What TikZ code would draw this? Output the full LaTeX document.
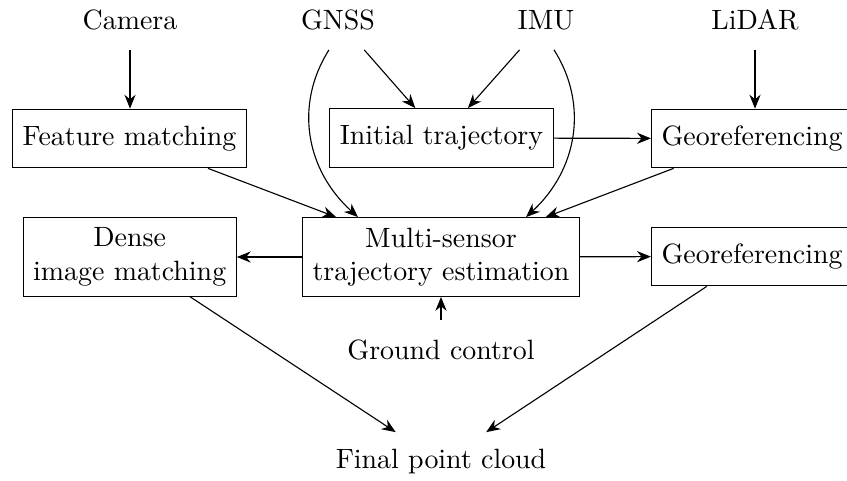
\documentclass[tikz,border=0pt]{standalone}
\usetikzlibrary{arrows.meta,calc}
\begin{document}
\begin{tikzpicture}[x=0.3584pt,y=-0.3584pt,
  every node/.style={minimum height=21pt},
  box/.style={draw,align=center,inner sep=3.6pt},
  lbl/.style={inner sep=3.33pt},
  arr/.style={-{Stealth[length=5pt,width=4pt]},line width=0.4pt}]
\useasboundingbox (0,0) rectangle (847,480);
\node[lbl] (cam) at (130,20) {Camera};
\node[lbl] (gnss) at (338,20) {GNSS};
\node[lbl] (imu) at (546,20) {IMU};
\node[lbl] (lidar) at (755,20) {LiDAR};
\node[box] (fm) at (129.5,138.5) {Feature matching};
\node[box] (it) at (441.5,138) {Initial trajectory};
\node[box] (geo1) at (752,138.5) {Georeferencing};
\node[box] (dim) at (129.7,257) {Dense\\image matching};
\node[box] (ms) at (441,257) {Multi-sensor\\trajectory estimation};
\node[box] (geo2) at (752,256.5) {Georeferencing};
\node[lbl] (gc) at (441,350) {Ground control};
\node[lbl] (fpc) at (441,462) {Final point cloud};
\draw[arr] (cam) -- (cam |- fm.north);
\draw[arr] (lidar) -- (lidar |- geo1.north);
\draw[arr] (gnss) -- (it);
\draw[arr] (imu) -- (it);
\draw[arr] ($(gnss.south)+(-9,0)$) .. controls (294,105) and (306,170) .. ($(ms.north)+(-83,0)$);
\draw[arr] ($(imu.south)+(8,0)$) .. controls (589,105) and (577,170) .. ($(ms.north)+(85,0)$);
\draw[arr] (it) -- (geo1);
\draw[arr] (fm) -- (ms);
\draw[arr] (geo1) -- (ms);
\draw[arr] (ms) -- (dim);
\draw[arr] (ms) -- (geo2);
\draw[arr] (gc) -- (ms);
\draw[arr] (dim) -- (fpc);
\draw[arr] (geo2) -- (fpc);
\end{tikzpicture}
\end{document}
